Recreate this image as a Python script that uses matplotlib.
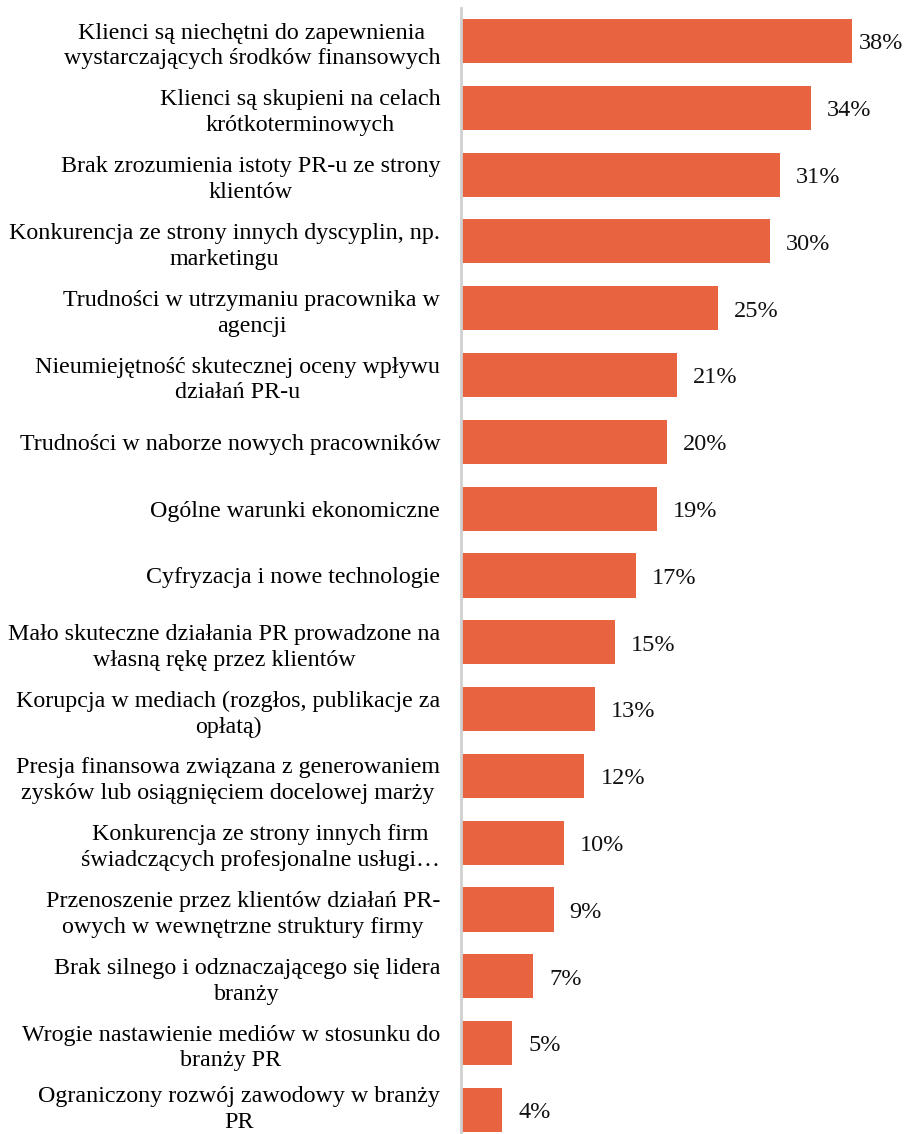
import matplotlib.pyplot as plt
from matplotlib.transforms import Affine2D

labels = [
    "Klienci są niechętni do zapewnienia\nwystarczających środków finansowych",
    "Klienci są skupieni na celach\nkrótkoterminowych",
    "Brak zrozumienia istoty PR-u ze strony\nklientów",
    "Konkurencja ze strony innych dyscyplin, np.\nmarketingu",
    "Trudności w utrzymaniu pracownika w\nagencji",
    "Nieumiejętność skutecznej oceny wpływu\ndziałań PR-u",
    "Trudności w naborze nowych pracowników",
    "Ogólne warunki ekonomiczne",
    "Cyfryzacja i nowe technologie",
    "Mało skuteczne działania PR prowadzone na\nwłasną rękę przez klientów",
    "Korupcja w mediach (rozgłos, publikacje za\nopłatą)",
    "Presja finansowa związana z generowaniem\nzysków lub osiągnięciem docelowej marży",
    "Konkurencja ze strony innych firm\nświadczących profesjonalne usługi…",
    "Przenoszenie przez klientów działań PR-\nowych w wewnętrzne struktury firmy",
    "Brak silnego i odznaczającego się lidera\nbranży",
    "Wrogie nastawienie mediów w stosunku do\nbranży PR",
    "Ograniczony rozwój zawodowy w branży\nPR",
]
values = [38, 34, 31, 30, 25, 21, 20, 19, 17, 15, 13, 12, 10, 9, 7, 5, 4]

plt.rcParams["font.family"] = ["Liberation Serif", "DejaVu Serif"]

W, H = 905, 1134
fig = plt.figure(figsize=(W / 100, H / 100), dpi=100)
ax = fig.add_axes([461 / W, 0, (W - 461) / W, 1 - 7.6 / H])

pos = list(range(len(values)))
bars = ax.barh(pos, values, height=0.66, color="#E8633F")
ax.set_xlim(0, 43.15)
ax.set_ylim(16.36, -0.5)

for spine in ["top", "right", "bottom"]:
    ax.spines[spine].set_visible(False)
ax.spines["left"].set_color("#D0D0D0")
ax.spines["left"].set_linewidth(2)
ax.set_xticks([])
ax.set_yticks(pos)
ax.set_yticklabels(labels, fontsize=17.3, linespacing=1.3)
for t in ax.get_yticklabels():
    t.set_multialignment("center")
ax.tick_params(axis="y", length=0, pad=15)

renderer = fig.canvas.get_renderer()

# keep the bottom category label inside the figure
fig.canvas.draw()
for t in ax.get_yticklabels():
    low = t.get_window_extent(renderer).y0
    if low < 1:
        t.set_transform(t.get_transform() + Affine2D().translate(0, 1 - low))

# value labels; pull back any that would run past the right edge
for b, v in zip(bars, values):
    txt = ax.annotate(f"{v}%", (b.get_width(), b.get_y() + b.get_height() / 2),
                      xytext=(11.5, -2), textcoords="offset points",
                      ha="left", va="center", fontsize=17.5, color="#111111")
    ext = txt.get_window_extent(renderer)
    over = ext.x1 - (W - 2)
    if over > 0:
        txt.xyann = (11.5 - over * 72 / fig.dpi, -2)

fig.savefig("out.png", dpi=100)
